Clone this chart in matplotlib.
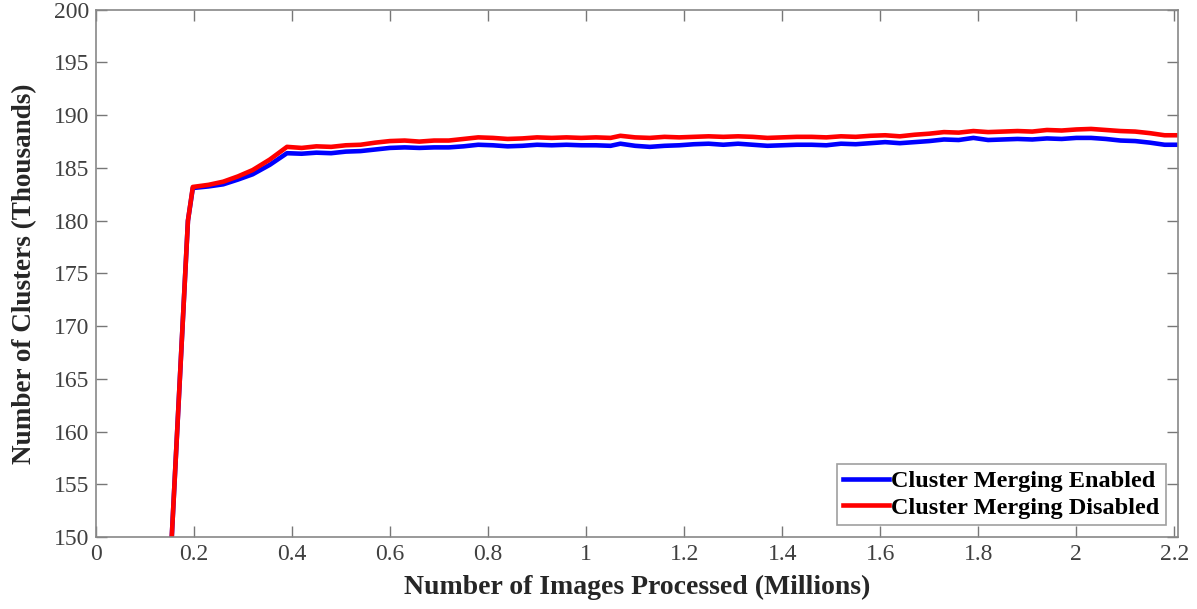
import matplotlib
matplotlib.use("Agg")
import matplotlib.pyplot as plt

# Images processed (millions)
images_m = [0.155, 0.188, 0.198, 0.23, 0.26, 0.29, 0.32, 0.355, 0.39, 0.42,
            0.45, 0.48, 0.51, 0.54, 0.57, 0.60, 0.63, 0.66, 0.69, 0.72,
            0.75, 0.78, 0.81, 0.84, 0.87, 0.90, 0.93, 0.96, 0.99, 1.02,
            1.05, 1.07, 1.10, 1.13, 1.16, 1.19, 1.22, 1.25, 1.28, 1.31,
            1.34, 1.37, 1.40, 1.43, 1.46, 1.49, 1.52, 1.55, 1.58, 1.61,
            1.64, 1.67, 1.70, 1.73, 1.76, 1.79, 1.82, 1.85, 1.88, 1.91,
            1.94, 1.97, 2.00, 2.03, 2.06, 2.09, 2.12, 2.15, 2.18, 2.21]

# Cluster counts (thousands) with merging disabled
clusters_disabled = [150.0, 180.0, 183.2, 183.4, 183.7, 184.2, 184.8, 185.8, 187.0, 186.9,
                     187.05, 187.0, 187.15, 187.2, 187.4, 187.55, 187.6, 187.5, 187.6, 187.6,
                     187.75, 187.9, 187.85, 187.75, 187.8, 187.9, 187.85, 187.9, 187.85, 187.9,
                     187.85, 188.05, 187.9, 187.85, 187.95, 187.9, 187.95, 188.0, 187.95, 188.0,
                     187.95, 187.85, 187.9, 187.95, 187.95, 187.9, 188.0, 187.95, 188.05, 188.1,
                     188.0, 188.15, 188.25, 188.4, 188.35, 188.5, 188.4, 188.45, 188.5, 188.45,
                     188.6, 188.55, 188.65, 188.7, 188.6, 188.5, 188.45, 188.3, 188.1, 188.1]

# Cluster counts (thousands) with merging enabled
clusters_enabled = [150.0, 180.0, 183.1, 183.25, 183.45, 183.9, 184.4, 185.3, 186.4, 186.35,
                    186.45, 186.4, 186.55, 186.6, 186.75, 186.9, 186.95, 186.9, 186.95, 186.95,
                    187.05, 187.2, 187.15, 187.05, 187.1, 187.2, 187.15, 187.2, 187.15, 187.15,
                    187.1, 187.3, 187.1, 187.0, 187.1, 187.15, 187.25, 187.3, 187.2, 187.3,
                    187.2, 187.1, 187.15, 187.2, 187.2, 187.15, 187.3, 187.25, 187.35, 187.45,
                    187.35, 187.45, 187.55, 187.7, 187.65, 187.85, 187.65, 187.7, 187.75, 187.7,
                    187.8, 187.75, 187.85, 187.85, 187.75, 187.6, 187.55, 187.4, 187.2, 187.2]

x_ticks = [0, 0.2, 0.4, 0.6, 0.8, 1.0, 1.2, 1.4, 1.6, 1.8, 2.0, 2.2]
x_tick_labels = ["0", "0.2", "0.4", "0.6", "0.8", "1", "1.2", "1.4", "1.6", "1.8", "2", "2.2"]
y_ticks = [150, 155, 160, 165, 170, 175, 180, 185, 190, 195, 200]

plt.rcParams["font.family"] = ["Liberation Serif", "DejaVu Serif"]

fig = plt.figure(figsize=(11.97, 6.09), dpi=100)
ax = fig.add_axes([0.080, 0.118, 0.904, 0.866])

ax.plot(images_m, clusters_enabled, color="#0000ff", lw=3.3,
        label="Cluster Merging Enabled", solid_joinstyle="round")
ax.plot(images_m, clusters_disabled, color="#ff0000", lw=3.3,
        label="Cluster Merging Disabled", solid_joinstyle="round")

ax.set_xlim(0, 2.207)
ax.set_ylim(150, 200)
ax.set_xticks(x_ticks)
ax.set_xticklabels(x_tick_labels)
ax.set_yticks(y_ticks)

ax.tick_params(direction="in", length=8, width=1, colors="#777777",
               labelcolor="#404040", labelsize=17, top=True, right=True, pad=5)
for s in ax.spines.values():
    s.set_color("#888888")
    s.set_linewidth(1.2)

ax.set_xlabel("Number of Images Processed (Millions)", fontsize=20,
              fontweight="bold", color="#262626", labelpad=7)
ax.set_ylabel("Number of Clusters (Thousands)", fontsize=19.5,
              fontweight="bold", color="#262626", labelpad=12)

leg = ax.legend(loc="lower right", prop={"weight": "bold", "size": 17.5},
                frameon=True, fancybox=False, edgecolor="#888888",
                borderpad=0.25, handlelength=1.9, handletextpad=0.1,
                labelspacing=0.2, borderaxespad=0.5)
leg.get_frame().set_linewidth(1.2)

fig.savefig("out.png", dpi=100, facecolor="white")
